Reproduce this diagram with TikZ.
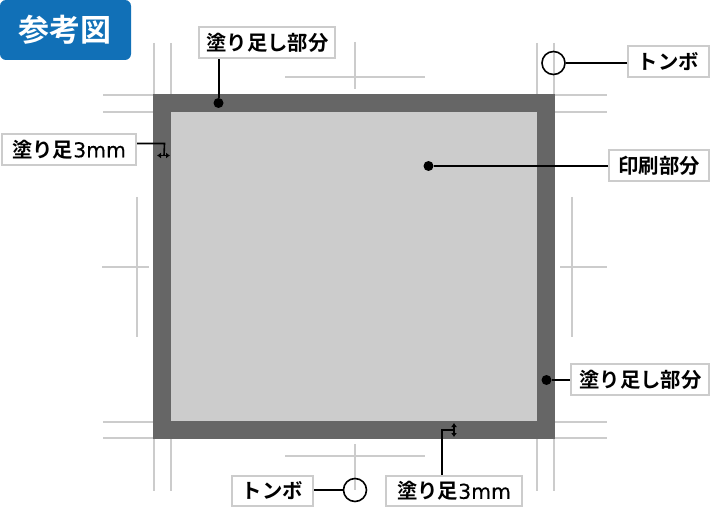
\documentclass[tikz,border=0pt]{standalone}
\usepackage{fontspec}
\setmainfont{Noto Sans CJK JP}[BoldFont={Noto Sans CJK JP Bold}]
\newfontfamily\latinwide{DejaVu Sans}[FakeBold=0.3]
\usetikzlibrary{arrows.meta}
\definecolor{markgray}{HTML}{CCCCCC}
\definecolor{bleedgray}{HTML}{666666}
\definecolor{badgeblue}{HTML}{1170B7}
\tikzset{
  x=1pt,y=-1pt,
  cropmark/.style={draw=markgray,line width=2pt},
  lab/.style={draw=markgray,line width=2pt,fill=white,inner sep=0pt,anchor=center,font=\fontsize{20.4}{20.4}\selectfont\bfseries,text=black},
  leader/.style={draw=black,line width=2pt},
  dotmark/.style={circle,fill=black,inner sep=0pt,minimum size=10pt},
  ringmark/.style={circle,draw=black,line width=1.6pt,inner sep=0pt,minimum size=23pt},
  tiny arrow/.style={draw=black,line width=1.2pt,{Latex[length=4pt,width=6pt]}-{Latex[length=4pt,width=6pt]}},
}
\begin{document}
\begin{tikzpicture}
\useasboundingbox (0,0) rectangle (710,508);
% crop marks
\draw[cropmark] (154,43)--(154,94) (171,43)--(171,94) (537,43)--(537,94) (554,43)--(554,94);
\draw[cropmark] (103,95)--(153,95) (103,112)--(153,112) (555,95)--(607,95) (555,112)--(607,112);
\draw[cropmark] (103,422)--(153,422) (103,438)--(153,438) (555,422)--(607,422) (555,438)--(607,438);
\draw[cropmark] (154,439)--(154,491) (171,439)--(171,491) (537,439)--(537,491) (554,439)--(554,491);
\draw[cropmark] (285,77)--(425,77) (355,42)--(355,89);
\draw[cropmark] (285,456)--(425,456) (355,444)--(355,490);
\draw[cropmark] (102,267)--(149,267) (137,197)--(137,337);
\draw[cropmark] (560,267)--(607,267) (572,197)--(572,337);
% sheet
\fill[bleedgray] (153,94) rectangle (555,439);
\fill[markgray] (171,112) rectangle (537,421);
% badge
\node[fill=badgeblue,rounded corners=6pt,minimum width=131pt,minimum height=60pt,inner sep=0pt,text=white,font=\fontsize{31}{31}\selectfont\bfseries] (badge) at (65.5,30) {\hspace{-1pt}参考図};
% labels
\node[lab,minimum width=136pt,minimum height=31pt] (bleedtop) at (267,43) {\hspace{1pt}塗り足し部分};
\node[lab,minimum width=134pt,minimum height=31pt] (leftmm) at (69,149.5) {塗り足{\latinwide\mdseries 3mm}};
\node[lab,minimum width=81pt,minimum height=31pt] (tombotop) at (668.5,61.5) {トンボ};
\node[lab,minimum width=100pt,minimum height=31pt] (print) at (659,165.5) {印刷部分};
\node[lab,minimum width=138pt,minimum height=31pt] (bleedright) at (640,379.5) {\hspace{1pt}塗り足し部分};
\node[lab,minimum width=81pt,minimum height=30pt] (tombobot) at (272.5,491) {トンボ};
\node[lab,minimum width=136pt,minimum height=30pt] (botmm) at (454,491) {塗り足{\latinwide\mdseries 3mm}};
% targets
\node[dotmark] (dota) at (218.5,103) {};
\node[dotmark] (dotb) at (428.5,166) {};
\node[dotmark] (dotc) at (546.5,380) {};
\node[ringmark] (ringa) at (553.5,63) {};
\node[ringmark] (ringb) at (355,490) {};
\coordinate (lefta) at (157,155.5);
\coordinate (leftb) at (170,155.5);
\coordinate (leftc) at (164,155.5);
\coordinate (bota) at (454,423);
\coordinate (botb) at (454,437);
\coordinate (botc) at (454,429.5);
% connectors
\draw[leader] (bleedtop.south -| dota) -- (dota);
\draw[leader] (print.west |- dotb) -- (dotb);
\draw[leader] (bleedright.west |- dotc) -- (dotc);
\draw[leader] (tombotop.west |- ringa) -- (ringa.east);
\draw[leader] (tombobot.east |- ringb) -- (ringb.west);
\draw[leader,line width=1.6pt] (leftmm.east |- 0,143.5) -- (164.5,143.5) -- (leftc);
\draw[leader] (botmm.north -| 442,0) -- (442,429.5) -- (botc);
\draw[tiny arrow] (lefta) -- (leftb);
\draw[tiny arrow] (bota) -- (botb);
\end{tikzpicture}
\end{document}
